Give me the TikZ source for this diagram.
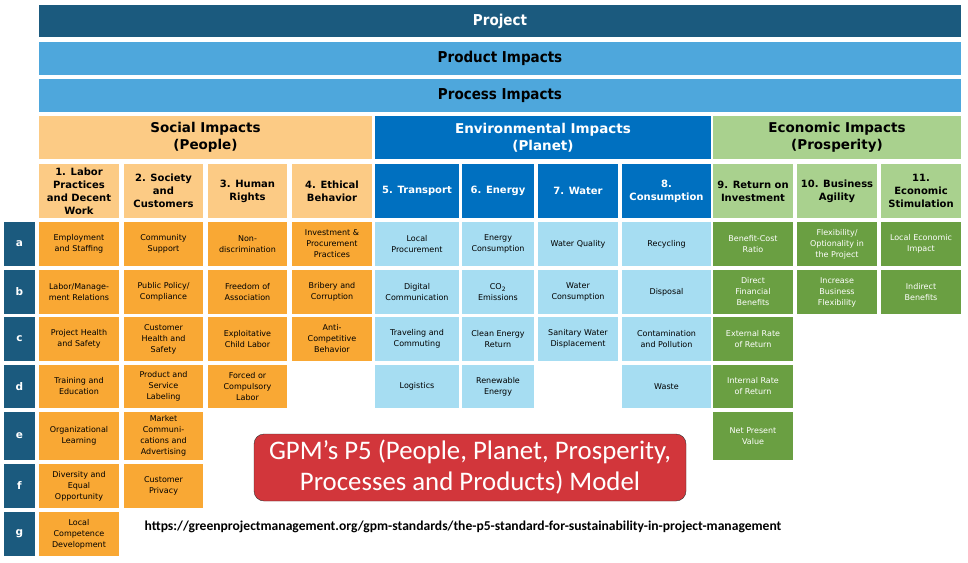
\documentclass[tikz,border=0pt]{standalone}
\usepackage{fontspec}
\setmainfont{DejaVu Sans}
\newfontfamily\condfont{DejaVu Sans Condensed}
\newfontfamily\calfont{Carlito}
\definecolor{projblue}{HTML}{1B5A7E}
\definecolor{barblue}{HTML}{4EA7DC}
\definecolor{socialhead}{HTML}{FCCB85}
\definecolor{socialcell}{HTML}{F9A834}
\definecolor{envhead}{HTML}{0070C0}
\definecolor{envcell}{HTML}{A6DDF2}
\definecolor{econhead}{HTML}{A9D18E}
\definecolor{econcell}{HTML}{6A9F42}
\definecolor{gpmred}{HTML}{D2363B}
% column and row grid (left, width, top, height)
\def\colx{{39,124,208,292,375,462,538,622,713,797,881}}
\def\colw{{80,79,79,80,84,72,80,89,80,80,80}}
\def\rowy{{222,270,317,365,412,464,512}}
\def\rowh{{44,44,44,43,48,44,44}}
\begin{document}
\begin{tikzpicture}[x=1pt,y=-1pt,
  box/.style={anchor=north west,inner sep=0pt,outer sep=0pt,align=center},
  bar/.style={box,minimum width=922pt,minimum height=32pt,font=\condfont\bfseries\fontsize{15}{17}\selectfont},
  cathead/.style={box,minimum height=43pt,font=\bfseries\fontsize{13.5}{17}\selectfont},
  colhead/.style={box,minimum height=54pt,font=\bfseries\fontsize{10}{13}\selectfont},
  cell/.style={box,font=\fontsize{8}{11}\selectfont},
  rowlabel/.style={box,fill=projblue,text=white,minimum width=31pt,font=\bfseries\fontsize{10.5}{12}\selectfont}]
\useasboundingbox (0,0) rectangle (968,562);

% Top bars
\node[bar,fill=projblue,text=white] (project) at (39,5) {Project};
\node[bar,fill=barblue,minimum height=33pt] (product) at (39,42) {Product Impacts};
\node[bar,fill=barblue,minimum height=33pt] (process) at (39,79) {Process Impacts};

% The three impact categories
\node[cathead,fill=socialhead,minimum width=333pt] (social) at (39,116) {Social Impacts\\(People)};
\node[cathead,fill=envhead,text=white,minimum width=336pt] (environ) at (375,116) {Environmental Impacts\\(Planet)};
\node[cathead,fill=econhead,minimum width=248pt] (econ) at (713,116) {Economic Impacts\\(Prosperity)};

% Column headers
\foreach \c/\t in {1/{1. Labor\\Practices\\and Decent\\Work}, 2/{2. Society\\and\\Customers},
                   3/{3. Human\\Rights}, 4/{4. Ethical\\Behavior}}{
  \pgfmathsetmacro\xx{\colx[\c-1]}
  \pgfmathsetmacro\ww{\colw[\c-1]}
  \node[colhead,fill=socialhead,minimum width=\ww pt] (head-\c) at (\xx,164) {\t};
}
\foreach \c/\t in {5/{5. Transport}, 6/{6. Energy}, 7/{7. Water}, 8/{8.\\Consumption}}{
  \pgfmathsetmacro\xx{\colx[\c-1]}
  \pgfmathsetmacro\ww{\colw[\c-1]}
  \node[colhead,fill=envhead,text=white,minimum width=\ww pt] (head-\c) at (\xx,164) {\t};
}
\foreach \c/\t in {9/{9. Return on\\Investment}, 10/{10. Business\\Agility}, 11/{11.\\Economic\\Stimulation}}{
  \pgfmathsetmacro\xx{\colx[\c-1]}
  \pgfmathsetmacro\ww{\colw[\c-1]}
  \node[colhead,fill=econhead,minimum width=\ww pt] (head-\c) at (\xx,164) {\t};
}

% Row letters
\foreach \r/\l in {1/a,2/b,3/c,4/d,5/e,6/f,7/g}{
  \pgfmathsetmacro\yy{\rowy[\r-1]}
  \pgfmathsetmacro\hh{\rowh[\r-1]}
  \node[rowlabel,minimum height=\hh pt] (row-\l) at (4,\yy) {\l};
}

% Social cells (People)
\foreach \c/\r/\t in {1/1/{Employment\\and Staffing}, 1/2/{Labor/Manage-\\ment Relations},
    1/3/{Project Health\\and Safety}, 1/4/{Training and\\Education}, 1/5/{Organizational\\Learning},
    1/6/{Diversity and\\Equal\\Opportunity}, 1/7/{Local\\Competence\\Development},
    2/1/{Community\\Support}, 2/2/{Public Policy/\\Compliance}, 2/3/{Customer\\Health and\\Safety},
    2/4/{Product and\\Service\\Labeling}, 2/5/{Market\\Communi-\\cations and\\Advertising},
    2/6/{Customer\\Privacy},
    3/1/{Non-\\discrimination}, 3/2/{Freedom of\\Association}, 3/3/{Exploitative\\Child Labor},
    3/4/{Forced or\\Compulsory\\Labor},
    4/1/{Investment \&\\Procurement\\Practices}, 4/2/{Bribery and\\Corruption},
    4/3/{Anti-\\Competitive\\Behavior}}{
  \pgfmathsetmacro\xx{\colx[\c-1]}
  \pgfmathsetmacro\ww{\colw[\c-1]}
  \pgfmathsetmacro\yy{\rowy[\r-1]}
  \pgfmathsetmacro\hh{\rowh[\r-1]}
  \node[cell,fill=socialcell,minimum width=\ww pt,minimum height=\hh pt] (cell-\c-\r) at (\xx,\yy) {\t};
}

% Environmental cells (Planet)
\foreach \c/\r/\t in {5/1/{Local\\Procurement}, 5/2/{Digital\\Communication},
    5/3/{Traveling and\\Commuting}, 5/4/{Logistics},
    6/1/{Energy\\Consumption}, 6/2/{CO\textsubscript{2}\\Emissions}, 6/3/{Clean Energy\\Return},
    6/4/{Renewable\\Energy},
    7/1/{Water Quality}, 7/2/{Water\\Consumption}, 7/3/{Sanitary Water\\Displacement},
    8/1/{Recycling}, 8/2/{Disposal}, 8/3/{Contamination\\and Pollution}, 8/4/{Waste}}{
  \pgfmathsetmacro\xx{\colx[\c-1]}
  \pgfmathsetmacro\ww{\colw[\c-1]}
  \pgfmathsetmacro\yy{\rowy[\r-1]}
  \pgfmathsetmacro\hh{\rowh[\r-1]}
  \node[cell,fill=envcell,minimum width=\ww pt,minimum height=\hh pt] (cell-\c-\r) at (\xx,\yy) {\t};
}

% Economic cells (Prosperity)
\foreach \c/\r/\t in {9/1/{Benefit-Cost\\Ratio}, 9/2/{Direct\\Financial\\Benefits},
    9/3/{External Rate\\of Return}, 9/4/{Internal Rate\\of Return}, 9/5/{Net Present\\Value},
    10/1/{Flexibility/\\Optionality in\\the Project}, 10/2/{Increase\\Business\\Flexibility},
    11/1/{Local Economic\\Impact}, 11/2/{Indirect\\Benefits}}{
  \pgfmathsetmacro\xx{\colx[\c-1]}
  \pgfmathsetmacro\ww{\colw[\c-1]}
  \pgfmathsetmacro\yy{\rowy[\r-1]}
  \pgfmathsetmacro\hh{\rowh[\r-1]}
  \node[cell,fill=econcell,text=white,minimum width=\ww pt,minimum height=\hh pt] (cell-\c-\r) at (\xx,\yy) {\t};
}

% Model title and source
\node[box,fill=gpmred,draw=black!80,rounded corners=10pt,text=white,minimum width=432pt,minimum height=67pt,
  font=\calfont\fontsize{26.8}{31}\selectfont] (model) at (254,434)
  {GPM’s P5 (People, Planet, Prosperity,\\Processes and Products) Model};
\node[font=\calfont\bfseries\fontsize{13.6}{16}\selectfont] (source) at (463,527)
  {https://greenprojectmanagement.org/gpm-standards/the-p5-standard-for-sustainability-in-project-management};
\end{tikzpicture}
\end{document}
